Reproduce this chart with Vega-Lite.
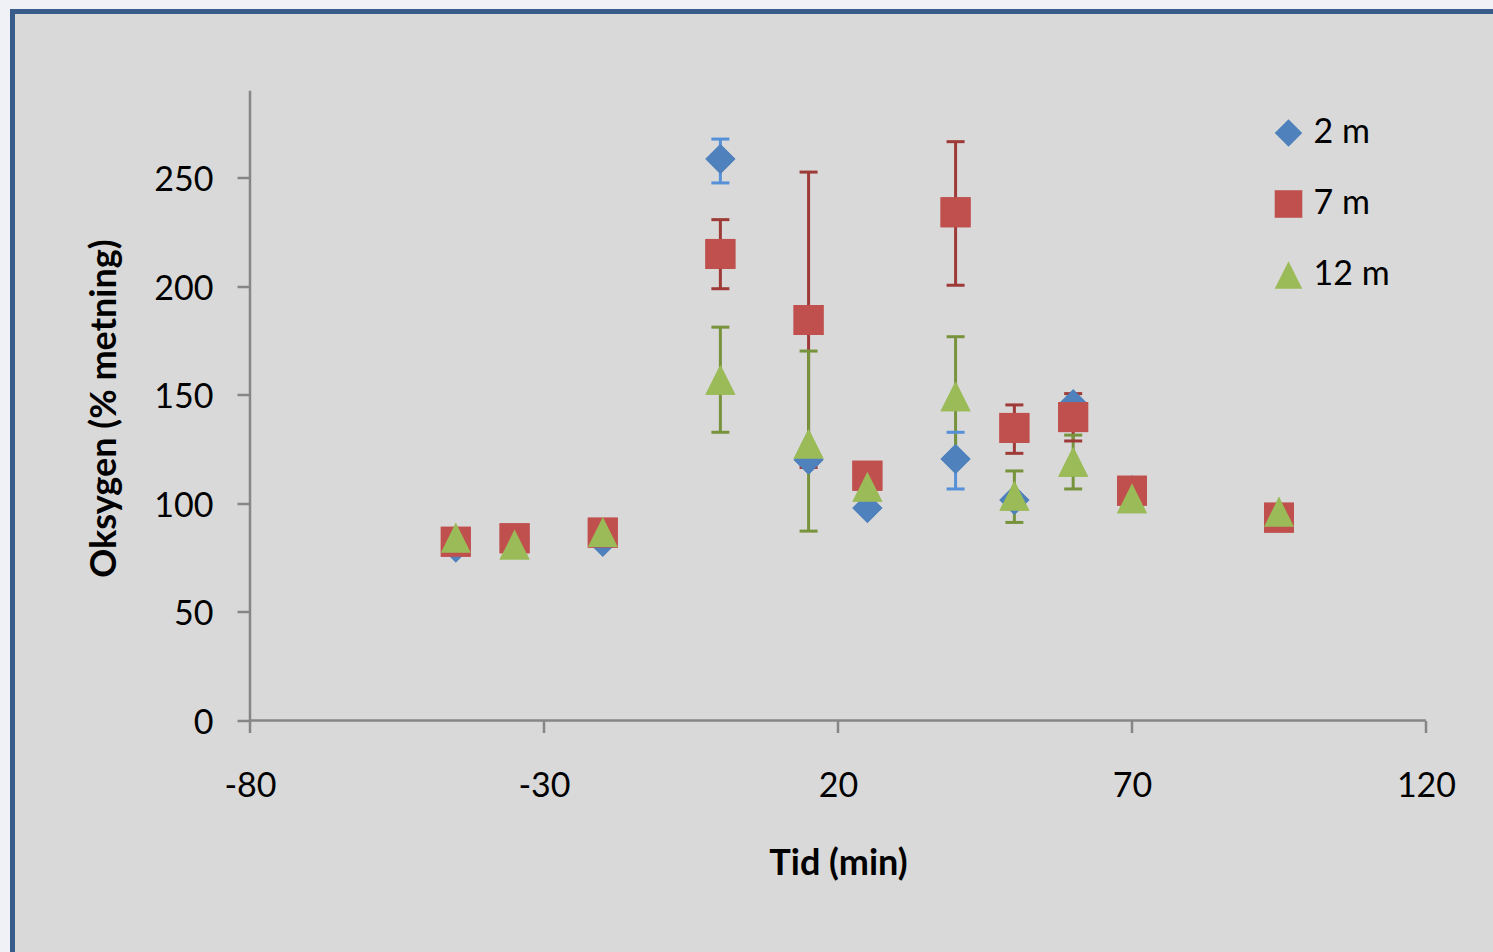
{
  "$schema": "https://vega.github.io/schema/vega-lite/v6.json",
  "width": 1485.5,
  "height": 945.5,
  "autosize": {"type": "none"},
  "padding": {"left": 12.5, "top": 11.5, "right": -5, "bottom": -5},
  "background": "#eff1f7",
  "config": {
    "view": {"fill": "#d9d9d9", "stroke": "#385d8a", "strokeWidth": 5},
    "font": "Lato",
    "axis": {"grid": false, "domain": false, "labelFont": "Lato", "titleFont": "Lato", "labelColor": "#000000", "titleColor": "#000000", "tickColor": "#868686", "tickWidth": 2.5, "labelFontSize": 34, "titleFontSize": 36, "titleFontWeight": "bold", "labelFlush": false, "labelOverlap": false}
  },
  "datasets": {
    "points": [
      {"series": "2 m", "x": -45, "y": 79.6},
      {"series": "2 m", "x": -35, "y": 82.3},
      {"series": "2 m", "x": -20, "y": 82.3},
      {"series": "2 m", "x": 0, "y": 258.5},
      {"series": "2 m", "x": 15, "y": 120},
      {"series": "2 m", "x": 25, "y": 97.8},
      {"series": "2 m", "x": 40, "y": 120.4},
      {"series": "2 m", "x": 50, "y": 101.5},
      {"series": "2 m", "x": 60, "y": 145.6},
      {"series": "2 m", "x": 70, "y": 106},
      {"series": "2 m", "x": 95, "y": 94},
      {"series": "7 m", "x": -45, "y": 82.3},
      {"series": "7 m", "x": -35, "y": 83.9},
      {"series": "7 m", "x": -20, "y": 86.5},
      {"series": "7 m", "x": 0, "y": 214.8},
      {"series": "7 m", "x": 15, "y": 184.4},
      {"series": "7 m", "x": 25, "y": 112.7},
      {"series": "7 m", "x": 40, "y": 234},
      {"series": "7 m", "x": 50, "y": 134.7},
      {"series": "7 m", "x": 60, "y": 139.7},
      {"series": "7 m", "x": 70, "y": 105.8},
      {"series": "7 m", "x": 95, "y": 93.4},
      {"series": "12 m", "x": -45, "y": 84.1},
      {"series": "12 m", "x": -35, "y": 81},
      {"series": "12 m", "x": -20, "y": 86.8},
      {"series": "12 m", "x": 0, "y": 156.9},
      {"series": "12 m", "x": 15, "y": 127.4},
      {"series": "12 m", "x": 25, "y": 107.6},
      {"series": "12 m", "x": 40, "y": 149.3},
      {"series": "12 m", "x": 50, "y": 103.5},
      {"series": "12 m", "x": 60, "y": 119.1},
      {"series": "12 m", "x": 70, "y": 102.3},
      {"series": "12 m", "x": 95, "y": 96.1}
    ],
    "errors": [
      {"series": "2 m", "x": 0, "lo": 247.5, "hi": 267.7},
      {"series": "2 m", "x": 40, "lo": 106.6, "hi": 132.7},
      {"series": "7 m", "x": 0, "lo": 198.8, "hi": 230.6},
      {"series": "7 m", "x": 15, "lo": 116.5, "hi": 252.5},
      {"series": "7 m", "x": 40, "lo": 200.4, "hi": 266.5},
      {"series": "7 m", "x": 50, "lo": 123, "hi": 145.3},
      {"series": "7 m", "x": 60, "lo": 128.7, "hi": 150.5},
      {"series": "12 m", "x": 0, "lo": 132.7, "hi": 181.1},
      {"series": "12 m", "x": 15, "lo": 87.2, "hi": 170.1},
      {"series": "12 m", "x": 40, "lo": 121.9, "hi": 176.7},
      {"series": "12 m", "x": 50, "lo": 91.2, "hi": 114.9},
      {"series": "12 m", "x": 60, "lo": 106.6, "hi": 131.4}
    ],
    "axisline": [{"origin": -80, "xend": 120, "base": 0, "yend": 290}]
  },
  "layer": [
    {
      "data": {"name": "points"},
      "mark": {"type": "point", "filled": true, "opacity": 1, "strokeWidth": 0},
      "encoding": {
        "x": {"field": "x", "type": "quantitative",
          "scale": {"domain": [-120.39, 132.25], "nice": false, "zero": false},
          "axis": {"values": [-80, -30, 20, 70, 120], "offset": -236.5, "tickSize": 12, "labelPadding": 37, "labelExpr": "datum.value < 0 ? '-' + abs(datum.value) : '' + datum.value", "title": "Tid (min)", "titleX": 825.5, "titleY": 142.5, "titleBaseline": "middle", "titleAlign": "center", "titleAnchor": null}},
        "y": {"field": "y", "type": "quantitative",
          "scale": {"domain": [-108.88, 326.43], "nice": false, "zero": false},
          "axis": {"values": [0, 50, 100, 150, 200, 250], "offset": -237.5, "tickSize": 13, "labelPadding": 24, "labelOffset": 3, "title": "Oksygen (% metning)", "titleX": -146, "titleY": 396.5, "titleAngle": -90, "titleBaseline": "middle", "titleAlign": "center", "titleAnchor": null}},
        "fill": {"field": "series", "type": "nominal",
          "scale": {"domain": ["2 m", "7 m", "12 m"], "range": ["#4f81bd", "#c0504d", "#9bbb59"]},
          "legend": {"orient": "none", "legendX": 1259, "legendY": 104.5, "title": null, "padding": 0, "labelFont": "Lato", "labelFontSize": 34, "labelColor": "#000000", "symbolSize": 760, "rowPadding": 37, "labelOffset": 8, "symbolStrokeWidth": 0}},
        "shape": {"field": "series", "type": "nominal",
          "scale": {"domain": ["2 m", "7 m", "12 m"], "range": ["diamond", "square", "M-1,1L1,1L0,-1Z"]},
          "legend": {"orient": "none", "legendX": 1259, "legendY": 104.5, "title": null, "padding": 0, "labelFont": "Lato", "labelFontSize": 34, "labelColor": "#000000", "symbolSize": 760, "rowPadding": 37, "labelOffset": 8, "symbolStrokeWidth": 0}},
        "size": {"value": 900}
      }
    },
    {
      "data": {"name": "axisline"},
      "mark": {"type": "rule", "color": "#868686", "strokeWidth": 2.5},
      "encoding": {
        "x": {"field": "origin", "type": "quantitative", "scale": {"domain": [-120.39, 132.25], "nice": false, "zero": false}},
        "x2": {"field": "xend"},
        "y": {"field": "base", "type": "quantitative", "scale": {"domain": [-108.88, 326.43], "nice": false, "zero": false}}
      }
    },
    {
      "data": {"name": "axisline"},
      "mark": {"type": "rule", "color": "#868686", "strokeWidth": 2.5},
      "encoding": {
        "x": {"field": "origin", "type": "quantitative", "scale": {"domain": [-120.39, 132.25], "nice": false, "zero": false}},
        "y": {"field": "base", "type": "quantitative", "scale": {"domain": [-108.88, 326.43], "nice": false, "zero": false}},
        "y2": {"field": "yend"}
      }
    },
    {
      "data": {"name": "errors"},
      "mark": {"type": "rule", "strokeWidth": 3},
      "encoding": {
        "x": {"field": "x", "type": "quantitative", "scale": {"domain": [-120.39, 132.25], "nice": false, "zero": false}},
        "y": {"field": "lo", "type": "quantitative", "scale": {"domain": [-108.88, 326.43], "nice": false, "zero": false}},
        "y2": {"field": "hi"},
        "stroke": {"field": "series", "type": "nominal", "scale": {"domain": ["2 m", "7 m", "12 m"], "range": ["#5590d8", "#9e3a37", "#77933c"]}, "legend": null}
      }
    },
    {
      "data": {"name": "errors"},
      "mark": {"type": "point", "shape": "stroke", "filled": false, "opacity": 1, "strokeWidth": 3, "size": 324},
      "encoding": {
        "x": {"field": "x", "type": "quantitative", "scale": {"domain": [-120.39, 132.25], "nice": false, "zero": false}},
        "y": {"field": "lo", "type": "quantitative", "scale": {"domain": [-108.88, 326.43], "nice": false, "zero": false}},
        "stroke": {"field": "series", "type": "nominal", "scale": {"domain": ["2 m", "7 m", "12 m"], "range": ["#5590d8", "#9e3a37", "#77933c"]}, "legend": null}
      }
    },
    {
      "data": {"name": "errors"},
      "mark": {"type": "point", "shape": "stroke", "filled": false, "opacity": 1, "strokeWidth": 3, "size": 324},
      "encoding": {
        "x": {"field": "x", "type": "quantitative", "scale": {"domain": [-120.39, 132.25], "nice": false, "zero": false}},
        "y": {"field": "hi", "type": "quantitative", "scale": {"domain": [-108.88, 326.43], "nice": false, "zero": false}},
        "stroke": {"field": "series", "type": "nominal", "scale": {"domain": ["2 m", "7 m", "12 m"], "range": ["#5590d8", "#9e3a37", "#77933c"]}, "legend": null}
      }
    },
    {
      "data": {"name": "points"},
      "mark": {"type": "point", "filled": true, "opacity": 1, "strokeWidth": 0},
      "encoding": {
        "x": {"field": "x", "type": "quantitative", "scale": {"domain": [-120.39, 132.25], "nice": false, "zero": false}},
        "y": {"field": "y", "type": "quantitative", "scale": {"domain": [-108.88, 326.43], "nice": false, "zero": false}},
        "fill": {"field": "series", "type": "nominal", "scale": {"domain": ["2 m", "7 m", "12 m"], "range": ["#4f81bd", "#c0504d", "#9bbb59"]}},
        "shape": {"field": "series", "type": "nominal", "scale": {"domain": ["2 m", "7 m", "12 m"], "range": ["diamond", "square", "M-1,1L1,1L0,-1Z"]}},
        "size": {"value": 900}
      }
    }
  ]
}
